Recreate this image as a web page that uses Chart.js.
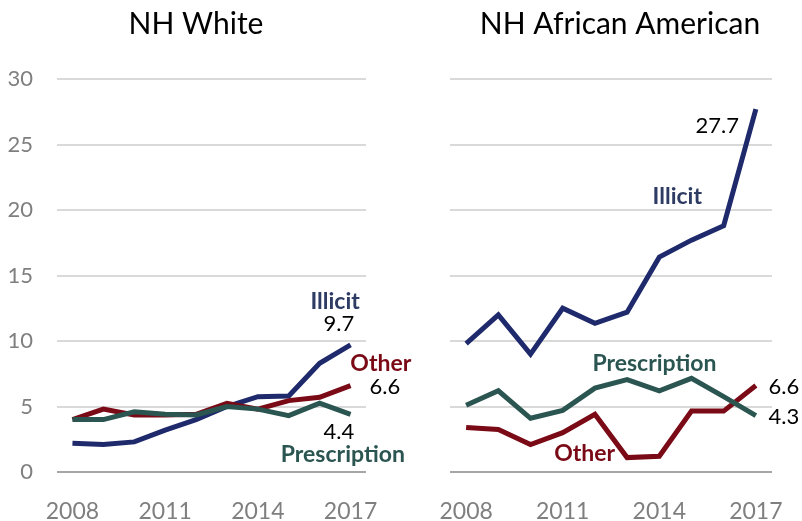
<!DOCTYPE html>
<html>
<head>
<meta charset="utf-8">
<script src="https://cdn.jsdelivr.net/npm/chart.js@4.4.0/dist/chart.umd.min.js"></script>
<style>
    body { margin: 0; background: #fff; }
    #wrap { position: relative; width: 802px; height: 521px; }
    canvas { position: absolute; top: 0; }
    #whiteChart { left: 0; }
    #blackChart { left: 420px; }
</style>
</head>
<body>
<div id="wrap">
    <canvas id="whiteChart" width="420" height="521"></canvas>
    <canvas id="blackChart" width="382" height="521"></canvas>
</div>
<script>
// Years on the x axis; only every third one gets a label
const years = ['2008', '2009', '2010', '2011', '2012', '2013', '2014', '2015', '2016', '2017'];
const yTicks = [0, 5, 10, 15, 20, 25, 30];

// NH White
const whiteIllicit      = [2.2, 2.1, 2.3, 3.2, 4.0, 5.0, 5.75, 5.8, 8.3, 9.7];
const whitePrescription = [4.0, 4.0, 4.6, 4.4, 4.35, 5.0, 4.8, 4.3, 5.25, 4.4];
const whiteOther        = [4.0, 4.8, 4.35, 4.35, 4.4, 5.25, 4.8, 5.45, 5.7, 6.6];

// NH African American
const blackIllicit      = [9.8, 12.0, 9.0, 12.5, 11.35, 12.2, 16.4, 17.7, 18.8, 27.7];
const blackPrescription = [5.1, 6.2, 4.1, 4.7, 6.4, 7.05, 6.2, 7.15, 5.75, 4.3];
const blackOther        = [3.4, 3.25, 2.1, 3.0, 4.4, 1.1, 1.2, 4.65, 4.65, 6.6];

const COLORS = {
    illicit: '#1f2a6c',
    illicitText: '#2e3b63',
    prescription: '#2b5550',
    other: '#7a0a16',
    tick: '#7f7f7f',
    grid: '#d9d9d9',
    zero: '#a6a6a6'
};
const FONT = 'Lato, "Open Sans", sans-serif';

// Text labels placed in data space (x = category index, y = value)
const whiteNotes = [
    { text: 'Illicit', x: 8.5, y: 12.98, color: COLORS.illicitText, bold: true },
    { text: '9.7', x: 8.62, y: 11.3, color: '#000' },
    { text: 'Other', x: 9.98, y: 8.24, color: COLORS.other, bold: true },
    { text: '6.6', x: 10.11, y: 6.49, color: '#000' },
    { text: '4.4', x: 8.62, y: 3.05, color: '#000' },
    { text: 'Prescription', x: 8.75, y: 1.3, color: COLORS.prescription, bold: true }
];
const blackNotes = [
    { text: '27.7', x: 7.8, y: 26.4, color: '#000' },
    { text: 'Illicit', x: 6.56, y: 21.0, color: COLORS.illicitText, bold: true },
    { text: 'Prescription', x: 5.85, y: 8.24, color: COLORS.prescription, bold: true },
    { text: '6.6', x: 9.87, y: 6.49, color: '#000' },
    { text: '4.3', x: 9.87, y: 4.2, color: '#000' },
    { text: 'Other', x: 3.68, y: 1.37, color: COLORS.other, bold: true }
];

/**
 * Draws the panel title and the in-plot labels
 */
const notesPlugin = {
    id: 'notes',
    afterDatasetsDraw(chart, args, opts) {
        const { ctx, scales: { x, y } } = chart;
        ctx.save();
        ctx.textAlign = 'center';
        ctx.textBaseline = 'middle';

        ctx.fillStyle = '#000';
        ctx.font = '30px ' + FONT;
        ctx.fillText(opts.title, opts.titleX, 24);

        opts.items.forEach(n => {
            ctx.fillStyle = n.color;
            ctx.font = n.bold ? 'bold 23px ' + FONT : '22px ' + FONT;
            ctx.fillText(n.text, x.getPixelForValue(n.x), y.getPixelForValue(n.y));
        });
        ctx.restore();
    }
};

function makeDataset(data, color) {
    return {
        data: data,
        borderColor: color,
        borderWidth: 5,
        pointRadius: 0,
        tension: 0,
        fill: false
    };
}

function buildChart(canvasId, series, notes, title, titleX, showYLabels, yWidth, padRight) {
    return new Chart(document.getElementById(canvasId), {
        type: 'line',
        data: {
            labels: years,
            datasets: [
                makeDataset(series.prescription, COLORS.prescription),
                makeDataset(series.other, COLORS.other),
                makeDataset(series.illicit, COLORS.illicit)
            ]
        },
        options: {
            responsive: false,
            animation: false,
            layout: { padding: { top: 79, right: padRight, bottom: 0, left: 0 } },
            scales: {
                x: {
                    offset: true,
                    grid: { display: false },
                    border: { display: false },
                    ticks: {
                        autoSkip: false,
                        maxRotation: 0,
                        padding: 18,
                        color: COLORS.tick,
                        font: { family: FONT, size: 23 },
                        callback: (v, i) => (i % 3 === 0 ? years[i] : '')
                    },
                    afterFit: scale => { scale.height = 49; }
                },
                y: {
                    min: 0,
                    max: 30,
                    afterBuildTicks: scale => { scale.ticks = yTicks.map(v => ({ value: v })); },
                    border: { display: false },
                    grid: {
                        drawTicks: false,
                        lineWidth: 2,
                        color: c => (c.tick.value === 0 ? COLORS.zero : COLORS.grid)
                    },
                    ticks: {
                        display: showYLabels,
                        padding: 24,
                        color: COLORS.tick,
                        font: { family: FONT, size: 22 }
                    },
                    afterFit: scale => { scale.width = yWidth; }
                }
            },
            plugins: {
                legend: { display: false },
                tooltip: { enabled: false },
                notes: { title: title, titleX: titleX, items: notes }
            }
        },
        plugins: [notesPlugin]
    });
}

buildChart('whiteChart',
    { illicit: whiteIllicit, prescription: whitePrescription, other: whiteOther },
    whiteNotes, 'NH White', 196, true, 57, 54);

buildChart('blackChart',
    { illicit: blackIllicit, prescription: blackPrescription, other: blackOther },
    blackNotes, 'NH African American', 200, false, 30, 29);
</script>
</body>
</html>
